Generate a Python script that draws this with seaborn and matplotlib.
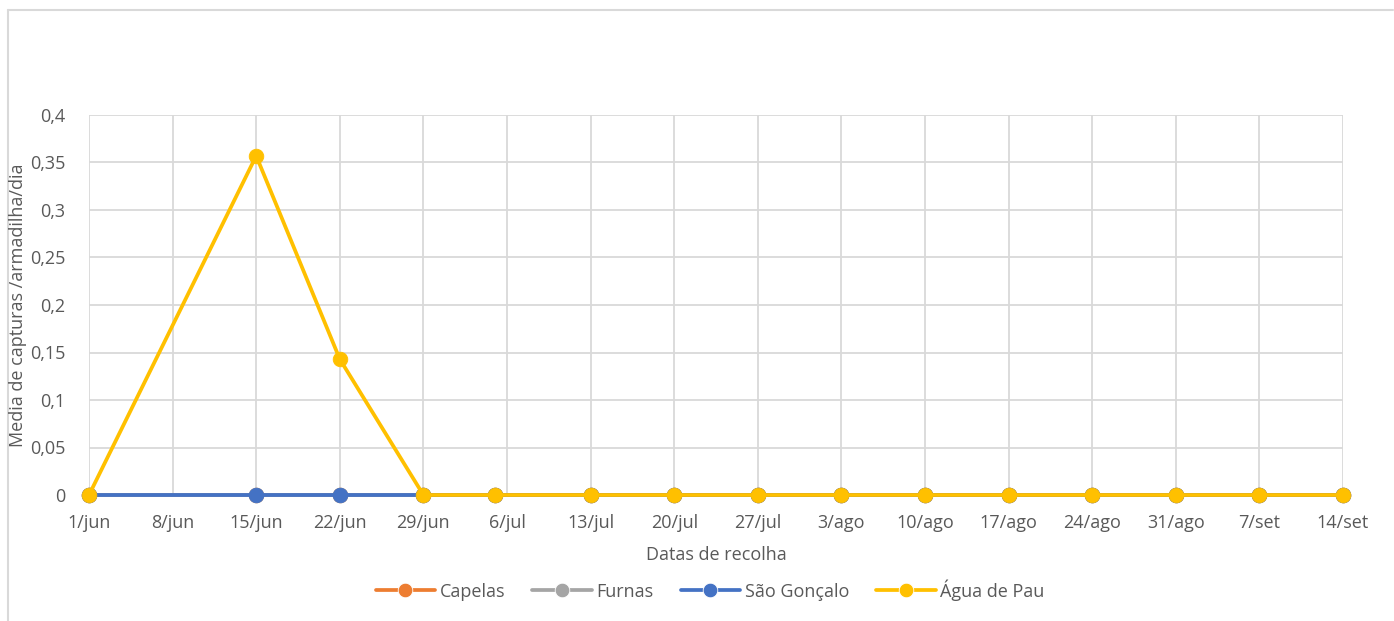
import seaborn as sns
import pandas as pd
import matplotlib.pyplot as plt
from matplotlib.ticker import FuncFormatter, MultipleLocator

# collection dates (year not shown on chart)
datas = ["2021-06-01", "2021-06-15", "2021-06-22", "2021-06-29", "2021-07-05",
         "2021-07-13", "2021-07-20", "2021-07-27", "2021-08-03", "2021-08-10",
         "2021-08-17", "2021-08-24", "2021-08-31", "2021-09-07", "2021-09-14"]
capelas = [0] * 15
furnas = [0] * 15
sao_goncalo = [0] * 15
agua_de_pau = [0, 0.357, 0.143, 0, 0, 0, 0, 0, 0, 0, 0, 0, 0, 0, 0]

series = ["Capelas", "Furnas", "São Gonçalo", "Água de Pau"]
cores = ["#ED7D31", "#A5A5A5", "#4472C4", "#FFC000"]
meses = {6: "jun", 7: "jul", 8: "ago", 9: "set"}

df = pd.concat([
    pd.DataFrame({"data": pd.to_datetime(datas), "valor": v, "local": nome})
    for nome, v in zip(series, [capelas, furnas, sao_goncalo, agua_de_pau])
])

sns.set_theme(style="white")
plt.rcParams["font.family"] = ["Open Sans", "DejaVu Sans"]
txt = "#595959"
fs = 13

fig = plt.figure(figsize=(13.94, 6.21), dpi=100)
ax = fig.add_axes([89 / 1394, 126 / 621, 1254 / 1394, 380 / 621])

sns.lineplot(data=df, x="data", y="valor", hue="local", hue_order=series,
             palette=cores, marker="o", markersize=10.5, linewidth=2.7,
             markeredgewidth=0.6, ax=ax)
for ln, c in zip(ax.lines, cores):
    ln.set_markeredgecolor(c)
    ln.set_clip_on(False)

# axes / grid
ax.set_xlim(pd.Timestamp("2021-06-01"), pd.Timestamp("2021-09-14"))
ax.set_ylim(0, 0.4)
ticks = pd.date_range("2021-06-01", "2021-09-14", freq="7D")
ax.set_xticks(ticks)
ax.set_xticklabels([f"{d.day}/{meses[d.month]}" for d in ticks])
ax.yaxis.set_major_locator(MultipleLocator(0.05))
ax.yaxis.set_major_formatter(FuncFormatter(
    lambda v, p: "0" if abs(v) < 1e-9 else f"{v:.2f}".rstrip("0").replace(".", ",")))
ax.grid(True, color="#D9D9D9", linewidth=1.3)
ax.set_axisbelow(True)
for s in ax.spines.values():
    s.set_visible(False)
ax.tick_params(axis="both", length=0, labelsize=fs, colors=txt)
ax.tick_params(axis="x", pad=14)
ax.tick_params(axis="y", pad=17)

ax.set_xlabel("Datas de recolha", fontsize=fs, color=txt, labelpad=10)
ax.set_ylabel("")
fig.text(18 / 1394, 1 - 305 / 621, "Media de capturas /armadilha/dia",
         rotation=90, ha="center", va="center", fontsize=fs, color=txt)

h, l = ax.get_legend_handles_labels()
ax.legend(h, l, loc="center", bbox_to_anchor=(710 / 1394, 1 - 590 / 621),
          bbox_transform=fig.transFigure, ncol=4, frameon=False,
          fontsize=fs, handlelength=3.3, handletextpad=0.25,
          columnspacing=1.5, labelcolor=txt)

# chart area border (Excel style)
fig.add_artist(plt.Line2D([8 / 1394, 8 / 1394], [0, 1 - 10 / 621],
                          color="#D9D9D9", lw=1.5))
fig.add_artist(plt.Line2D([8 / 1394, 1393 / 1394], [1 - 10 / 621, 1 - 10 / 621],
                          color="#D9D9D9", lw=1.5))

fig.savefig("out.png", dpi=100)
